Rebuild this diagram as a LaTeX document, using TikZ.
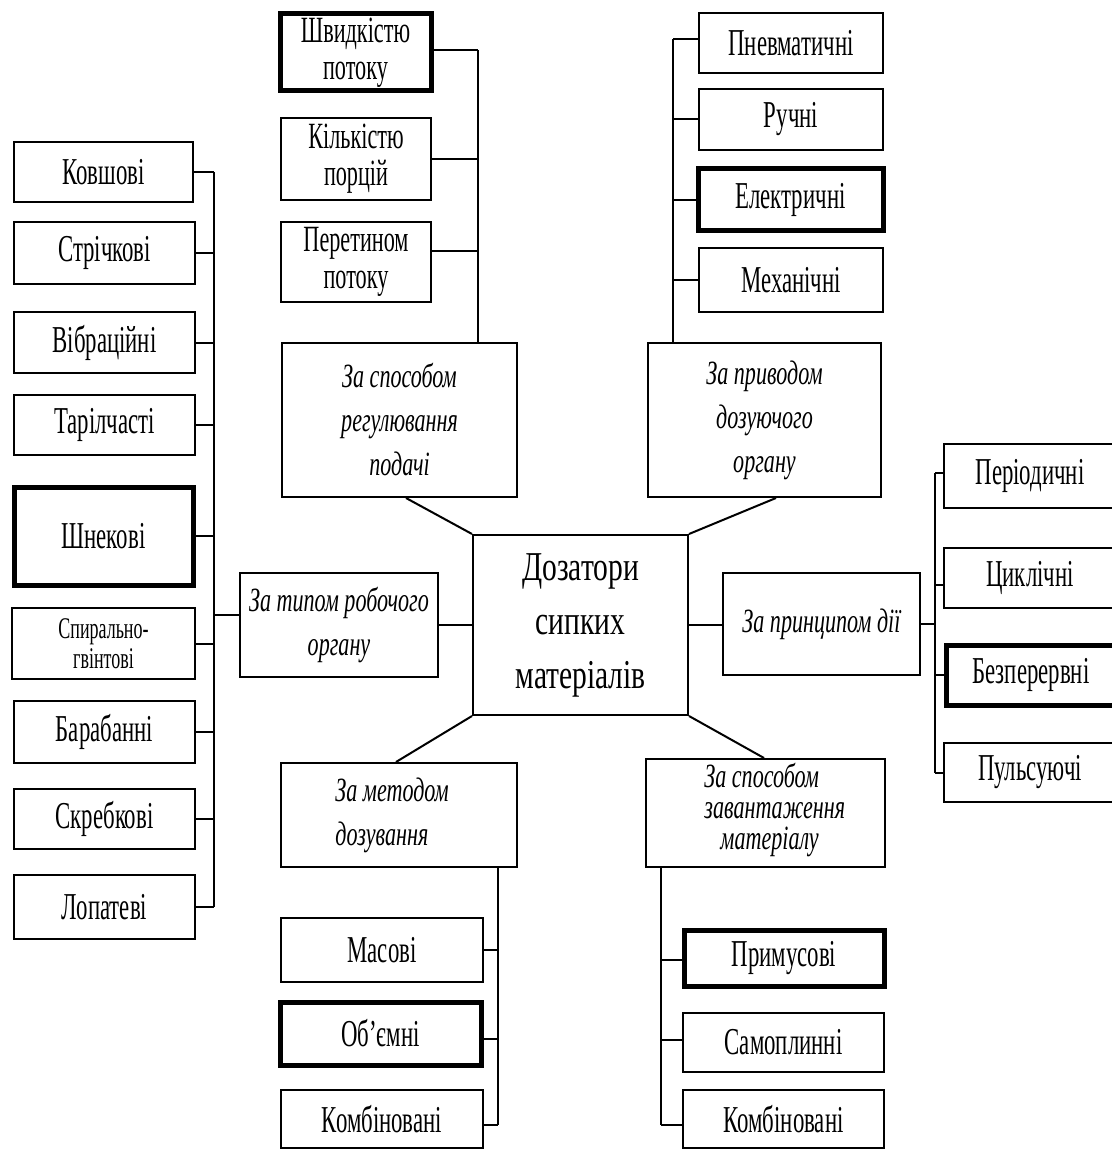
\documentclass[tikz,border=0pt]{standalone}
\usepackage{fontspec}
\setmainfont{Liberation Serif}
\newfontfamily\rf{Liberation Serif}[FakeStretch=0.6]
\newfontfamily\itf{Liberation Serif}[FakeStretch=0.65]
\newfontfamily\cf{Liberation Serif}[FakeStretch=0.72]
\usetikzlibrary{calc}
\newcommand\boxat[7]{\node[#1, minimum width={(#5-#3)*0.5pt}, minimum height={(#6-#4)*0.5pt}] (#2) at ({(#3+#5)/2},{(#4+#6)/2}) {#7};}
\begin{document}
\begin{tikzpicture}[x=0.5pt,y=-0.5pt,
  bx/.style={draw, line width=1pt, inner sep=0pt, align=center, font=\rf\fontsize{19}{17}\selectfont},
  thk/.style={bx, line width=2.5pt},
  two/.style={font=\rf\fontsize{18.5}{18.5}\selectfont},
  cat/.style={draw, line width=1pt, inner sep=0pt, align=center, font=\itf\itshape\fontsize{17}{22}\selectfont},
  cattext/.style={inner sep=0pt, align=left, font=\itf\itshape\fontsize{17}{22}\selectfont},
  ctr/.style={draw, line width=1pt, inner sep=0pt, align=center, font=\cf\fontsize{20.5}{27}\selectfont},
  ln/.style={line width=1pt}]
\useasboundingbox (0,0) rectangle (1112,1150);
\fill[white] (0,0) rectangle (1112,1150);
\clip (0,0) rectangle (1112,1150);

% centre
\boxat{ctr}{cen}{473}{535}{688}{715}{Дозатори\\сипких\\матеріалів}

% left group
\boxat{bx}{kov}{14}{142}{193}{202}{Ковшові}
\boxat{bx}{str}{14}{222}{195}{284}{Стрічкові}
\boxat{bx}{vib}{14}{312}{195}{373}{Вібраційні}
\boxat{bx}{tar}{14}{395}{195}{455}{Тарілчасті}
\boxat{thk}{shn}{14}{487}{193}{585}{Шнекові}
\boxat{bx, font=\rf\fontsize{15}{15}\selectfont}{spi}{12}{608}{195}{679}{Спирально-\\гвінтові}
\boxat{bx}{bar}{14}{701}{195}{763}{Барабанні}
\boxat{bx}{skr}{14}{789}{195}{849}{Скребкові}
\boxat{bx}{lop}{14}{875}{195}{939}{Лопатеві}
\boxat{cat}{typ}{240}{573}{438}{677}{За типом робочого\\органу}

% top left group
\boxat{cat}{reg}{282}{343}{517}{497}{За способом\\регулювання\\подачі}
\boxat{thk, two}{shv}{280}{14}{431}{91}{Швидкістю\\потоку}
\boxat{bx, two}{kil}{281}{118}{431}{200}{Кількістю\\порцій}
\boxat{bx, two}{per}{281}{222}{431}{302}{Перетином\\потоку}

% top right group
\boxat{cat}{priv}{648}{343}{881}{497}{За приводом\\дозуючого\\органу}
\boxat{bx}{pnev}{699}{13}{883}{73}{Пневматичні}
\boxat{bx}{ruch}{699}{89}{883}{150}{Ручні}
\boxat{thk}{elek}{698}{169}{883}{231}{Електричні}
\boxat{bx}{mekh}{699}{248}{883}{312}{Механічні}

% right group
\boxat{cat}{pryn}{723}{573}{920}{675}{За принципом дії}
\boxat{bx}{peri}{944}{444}{1116}{508}{Періодичні}
\boxat{bx}{cyk}{944}{548}{1116}{608}{Циклічні}
\boxat{thk}{bez}{946}{645}{1116}{705}{Безперервні}
\boxat{bx}{pul}{944}{743}{1116}{802}{Пульсуючі}

% bottom left group
\boxat{cat}{metod}{281}{763}{517}{867}{}
\node[cattext, anchor=west] (metodt) at (335,815) {За методом\\дозування};
\boxat{bx}{mas}{281}{918}{483}{982}{Масові}
\boxat{thk}{obj}{280}{1002}{481}{1065}{Об’ємні}
\boxat{bx}{koma}{281}{1090}{483}{1148}{Комбіновані}

% bottom right group
\boxat{cat}{zav}{646}{759}{885}{867}{}
\node[cattext, anchor=west, font=\itf\itshape\fontsize{17}{15.5}\selectfont] (zavt) at (704,810) {За способом\\завантаження\\\hspace*{8pt}матеріалу};
\boxat{thk}{prim}{684}{930}{884}{986}{Примусові}
\boxat{bx}{sam}{683}{1013}{884}{1072}{Самоплинні}
\boxat{bx}{komb}{683}{1090}{884}{1148}{Комбіновані}

% bus coordinates
\coordinate (busL) at (214,0);
\coordinate (busTL) at (478,0);
\coordinate (busTR) at (673,0);
\coordinate (busR) at (935,0);
\coordinate (busBL) at (498,0);
\coordinate (busBR) at (661,0);

% left connectors
\foreach \n in {kov,str,vib,tar,shn,spi,bar,skr,lop}
  \draw[ln] (\n.east) -- (\n.east -| busL);
\draw[ln] (kov.east -| busL) -- (lop.east -| busL);
\coordinate (typc) at ($(typ.west)+(0,-10)$);
\draw[ln] (busL |- typc) -- (typc);

% top left connectors
\coordinate (shvc) at ($(shv.east)+(0,-2)$);
\coordinate (perc) at ($(per.east)+(0,-11)$);
\draw[ln] (shvc) -- (shvc -| busTL);
\draw[ln] (kil.east) -- (kil.east -| busTL);
\draw[ln] (perc) -- (perc -| busTL);
\draw[ln] (shvc -| busTL) -- (busTL |- reg.north);

% top right connectors
\coordinate (pnevc) at ($(pnev.west)+(0,-4)$);
\draw[ln] (pnevc) -- (pnevc -| busTR);
\foreach \n in {ruch,elek,mekh}
  \draw[ln] (\n.west) -- (\n.west -| busTR);
\draw[ln] (pnevc -| busTR) -- (busTR |- priv.north);

% right connectors
\coordinate (peric) at ($(peri.west)+(0,-3)$);
\coordinate (cykc) at ($(cyk.west)+(0,7)$);
\draw[ln] (peric) -- (peric -| busR);
\draw[ln] (cykc) -- (cykc -| busR);
\draw[ln] (bez.west) -- (bez.west -| busR);
\draw[ln] (pul.west) -- (pul.west -| busR);
\draw[ln] (peric -| busR) -- (pul.west -| busR);
\draw[ln] (pryn.east) -- (pryn.east -| busR);

% bottom left connectors
\coordinate (objc) at ($(obj.east)+(0,5)$);
\coordinate (komac) at ($(koma.east)+(0,6)$);
\draw[ln] (mas.east) -- (mas.east -| busBL);
\draw[ln] (objc) -- (objc -| busBL);
\draw[ln] (komac) -- (komac -| busBL);
\draw[ln] (busBL |- metod.south) -- (komac -| busBL);

% bottom right connectors
\coordinate (primc) at ($(prim.west)+(0,2)$);
\coordinate (samc) at ($(sam.west)+(0,-3)$);
\coordinate (kombc) at ($(komb.west)+(0,6)$);
\draw[ln] (primc) -- (primc -| busBR);
\draw[ln] (samc) -- (samc -| busBR);
\draw[ln] (kombc) -- (kombc -| busBR);
\draw[ln] (busBR |- zav.south) -- (kombc -| busBR);

% centre connectors
\draw[ln] (typ.east) -- (typ.east -| cen.west);
\draw[ln] (cen.east) -- (cen.east -| pryn.west);
\draw[ln] (cen.north west) -- ($(reg.south west)+(125,0)$);
\draw[ln] (cen.north east) -- ($(priv.south west)+(129,0)$);
\draw[ln] (cen.south west) -- ($(metod.north west)+(116,0)$);
\draw[ln] (cen.south east) -- ($(zav.north west)+(119,0)$);
\end{tikzpicture}
\end{document}
